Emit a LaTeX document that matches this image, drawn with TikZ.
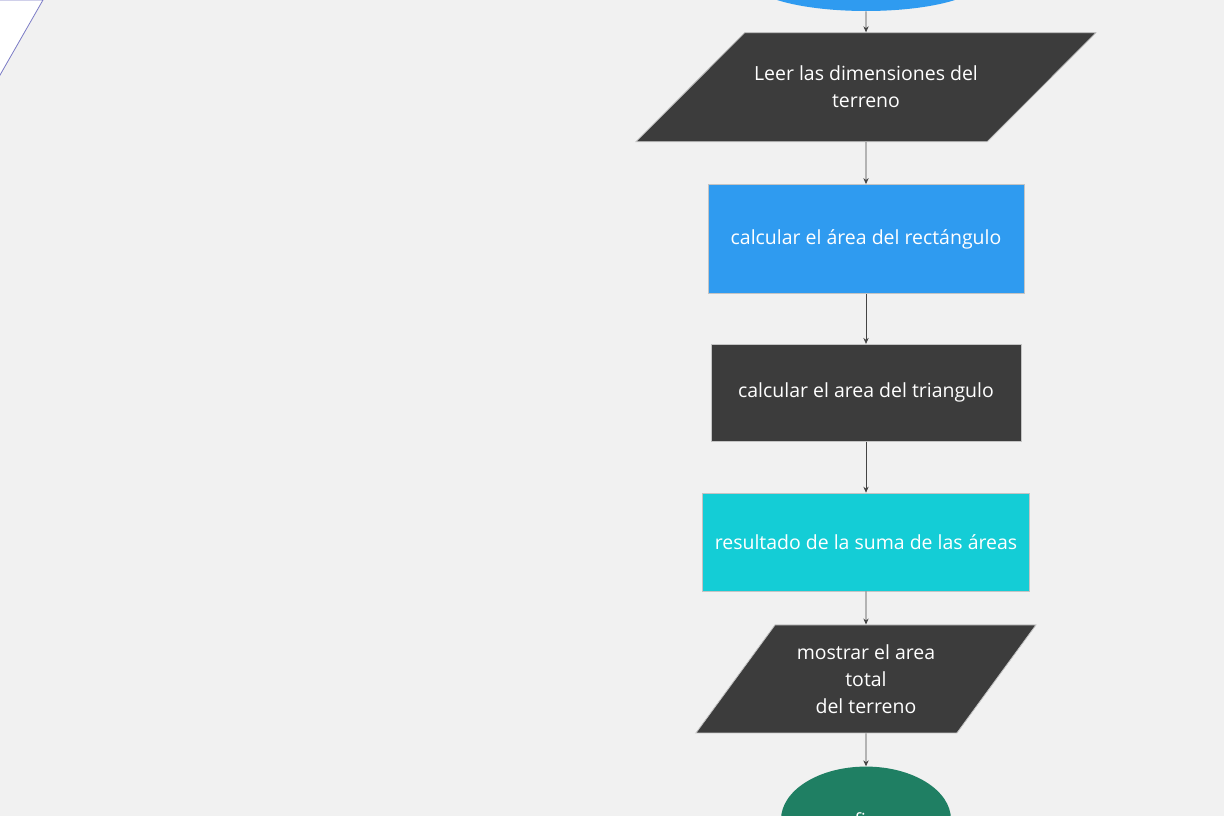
\documentclass[tikz,border=0pt]{standalone}
\usepackage{fontspec}
\setmainfont{Open Sans}
\usetikzlibrary{shapes.geometric,arrows.meta,positioning}
\definecolor{fondo}{HTML}{F1F1F1}
\definecolor{gris}{HTML}{3C3C3C}
\definecolor{azul}{HTML}{2F9BF0}
\definecolor{turquesa}{HTML}{14CDD6}
\definecolor{verde}{HTML}{1F7F63}
\definecolor{borde}{HTML}{C4C4C4}
\definecolor{lila}{HTML}{7C7CC6}
\definecolor{flecha}{HTML}{444444}

\begin{document}
\begin{tikzpicture}[x=0.75pt,y=-0.75pt,% 1 unit = 1 px of the page
		every node/.style={
			align=center,		% so that "\\" breaks the line
			text=white,
			inner sep=0pt,
			font=\fontsize{14.6}{20.25}\selectfont
		},
		every edge/.style={draw=flecha,line width=0.6pt},
		>={Stealth[length=4.5pt,width=4pt]},
		proceso/.style={rectangle,draw=borde,line width=0.6pt},
		entrada/.style={trapezium,trapezium stretches body=true,draw=borde,line width=0.6pt,fill=gris},
		terminal/.style={ellipse}
	]
	\useasboundingbox[fill=fondo] (0,0) rectangle (1224,816);
	\clip (0,0) rectangle (1224,816);
	% shape cut off at the top left
	\filldraw[fill=white,draw=lila,line width=0.6pt] (-300,0) -- (43,0) -- (-20,110) -- (-300,110) -- cycle;
	\node[terminal,fill=azul,minimum width=172.5pt,minimum height=45pt](T1) at (866,-19) {};
	\node[entrada,trapezium left angle=45,trapezium right angle=135,inner ysep=25pt,minimum width=345pt,minimum height=81.75pt](E1)[below=15.75pt of T1]{Leer las dimensiones del\\terreno};
	\node[proceso,fill=azul,minimum width=237pt,minimum height=81.75pt](P1)[below=31.5pt of E1]{calcular el área del rectángulo};
	\node[proceso,fill=gris,minimum width=232.5pt,minimum height=72.75pt](P2)[below=37.5pt of P1]{calcular el area del triangulo};
	\node[proceso,fill=turquesa,minimum width=245.25pt,minimum height=73.5pt](P3)[below=38.25pt of P2]{resultado de la suma de las áreas};
	\node[entrada,trapezium left angle=53.5,trapezium right angle=126.5,inner ysep=14.2pt,minimum width=255pt,minimum height=81pt](E2)[below=24.75pt of P3]{mostrar el area\\total\\del terreno};
	\node[terminal,fill=verde,minimum width=127.5pt,minimum height=79.5pt](T2)[below=24.75pt of E2]{fin};
	\path[->]
	(T1)edge [] node [] {} (E1)
	(E1)edge [] node [] {} (P1)
	(P1)edge [] node [] {} (P2)
	(P2)edge [] node [] {} (P3)
	(P3)edge [] node [] {} (E2)
	(E2)edge [] node [] {} (T2)
	;
\end{tikzpicture}
\end{document}
